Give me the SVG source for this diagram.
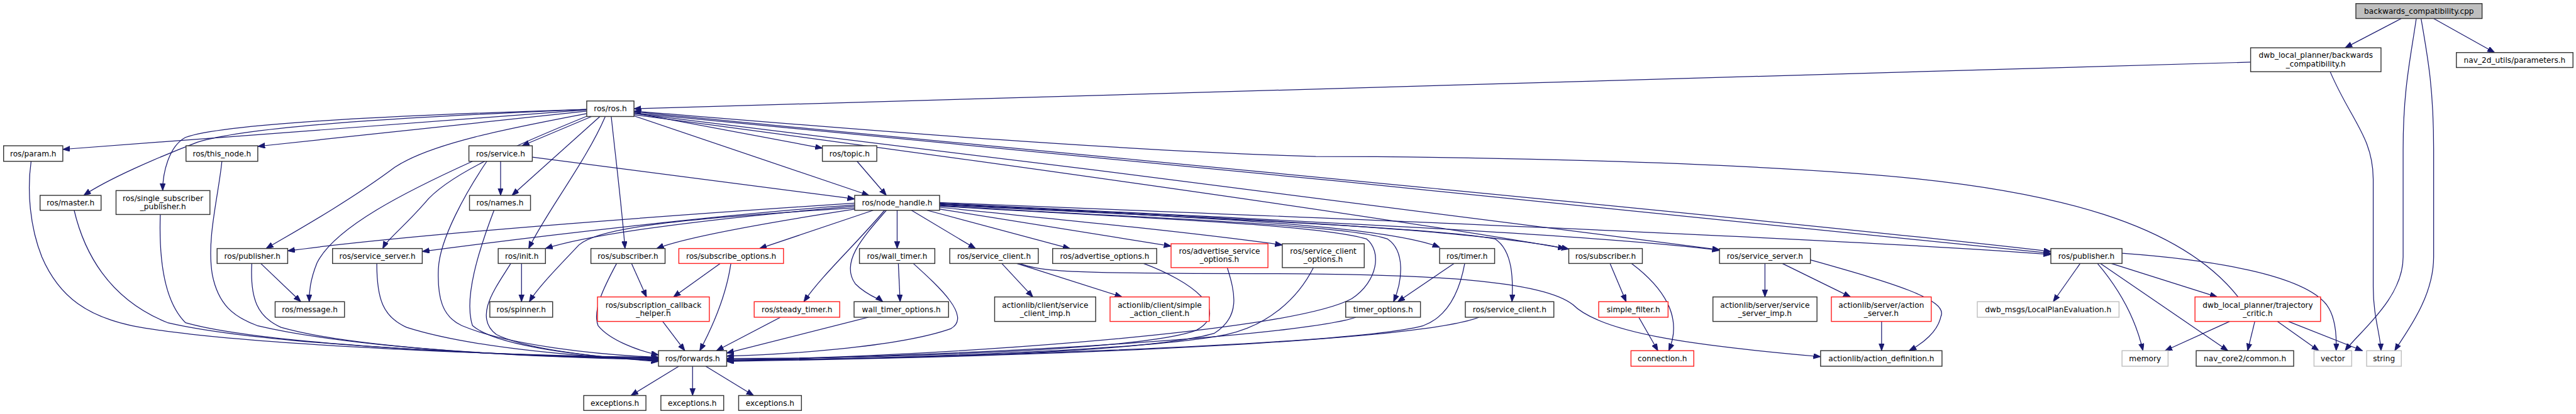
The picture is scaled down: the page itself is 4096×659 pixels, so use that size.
<svg xmlns="http://www.w3.org/2000/svg" width="4096" height="659" viewBox="0 0 4096 659">
<style>
.nd rect{fill:#fff;stroke:#333;stroke-width:1.5}
.nd.red rect{stroke:#ff2020}
.nd.gry rect{stroke:#bfbfbf}
.nd.root rect{fill:#bfbfbf}
.nd text{font-family:"DejaVu Sans","Liberation Sans",sans-serif;font-size:12.8px;text-anchor:middle;fill:#000}
#edges path{fill:none;stroke:#191970;stroke-width:1.3;marker-end:url(#ah)}
#edges path.na{marker-end:none}
</style>
<defs>
<marker id="ah" markerUnits="userSpaceOnUse" markerWidth="13" markerHeight="10" refX="12" refY="4.5" orient="auto"><path d="M0,0 L12,4.5 L0,9 z" fill="#191970" stroke="#191970" stroke-width="1"/></marker>
</defs>
<rect width="4096" height="659" fill="#fff"/>
<g transform="scale(0.951)">
<g id="edges">
<path d="M4015,31 L3921,80"/>
<path d="M4069,31 L4171,88"/>
<path d="M4040,31 C4030,100 4018,150 4018,250 L4018,430 C4018,500 3945,555 3921,587"/>
<path d="M4048,31 C4060,100 4069,150 4069,250 L4069,430 C4069,500 4020,560 4004,587"/>
<path d="M3896,120 C3930,200 3968,230 3968,300 L3968,480 C3968,530 3980,560 3981,587"/>
<path d="M3763,104 L1060,182"/>
<path d="M981,184 L105,250"/>
<path d="M981,186 L431,245"/>
<path d="M981,183 C700,195 420,210 330,238 C260,265 180,300 140,327"/>
<path d="M981,183 C700,192 380,205 310,230 C282,245 272,290 272,319"/>
<path d="M982,190 C850,215 720,240 660,280 C580,340 480,395 445,416"/>
<path d="M985,193 C870,240 750,290 710,340 C675,380 648,400 640,416"/>
<path d="M989,195 L873,244"/>
<path d="M1003,195 L856,327"/>
<path d="M1012,195 C980,270 910,360 884,416"/>
<path d="M1022,195 C1030,270 1040,350 1045,416"/>
<path d="M1060,189 L1375,248"/>
<path d="M1060,194 L1453,327"/>
<path d="M1060,192 C1500,250 2300,360 2617,416"/>
<path d="M1060,190 C1600,255 2600,380 2875,418"/>
<path d="M1060,187 C1600,240 2900,360 3429,421"/>
<path d="M1060,189 C1600,243 2900,364 3429,424"/>
<path d="M3742,497 C3650,380 3450,315 3100,290 C2800,268 2400,262 2200,262 C1800,250 1300,205 1060,186"/>
<path d="M1433,270 L1482,327"/>
<path d="M890,263 L1429,333"/>
<path d="M837,270 L837,327"/>
<path d="M790,270 C680,320 560,380 530,440 C518,470 517,490 517,505"/>
<path d="M814,270 C780,320 735,400 733,450 C731,500 740,530 772,545 C850,578 1000,594 1101,598"/>
<path d="M52,270 C45,320 50,380 70,430 C100,500 150,530 220,545 C400,580 900,596 1101,598"/>
<path d="M124,352 C140,420 180,500 280,540 C450,580 900,597 1101,599"/>
<path d="M268,359 C266,420 270,500 310,540 C450,580 900,597 1101,600"/>
<path d="M371,270 C365,330 345,400 355,460 C365,510 390,530 430,545 C600,585 900,598 1101,601"/>
<path d="M421,441 C418,500 430,530 470,548 C600,585 900,598 1101,602"/>
<path d="M436,441 L503,505"/>
<path d="M630,441 C630,500 640,530 680,548 C780,580 950,596 1101,603"/>
<path d="M826,352 C800,420 775,500 790,545 C830,580 980,597 1101,604"/>
<path d="M854,441 C830,480 790,530 830,560 C880,585 1000,598 1101,605"/>
<path d="M872,441 L872,505"/>
<path d="M1031,441 C1010,480 990,520 1000,545 C1020,570 1070,588 1101,594"/>
<path d="M1056,441 L1081,497"/>
<path d="M1204,441 L1126,497"/>
<path d="M1222,441 C1215,490 1195,540 1170,587"/>
<path d="M1108,538 L1145,587"/>
<path d="M1305,531 L1198,587"/>
<path d="M1452,531 L1215,591"/>
<path d="M1502,441 L1505,505"/>
<path d="M1527,441 C1570,480 1625,530 1590,550 C1500,582 1300,594 1215,596"/>
<path d="M1429,340 C1200,355 700,390 481,420"/>
<path d="M1429,343 C1200,360 900,395 706,421"/>
<path d="M1429,345 C1200,365 1000,388 912,416"/>
<path d="M1429,348 C1150,365 1000,380 968,410 C940,440 900,480 885,505"/>
<path d="M1429,350 C1300,370 1150,395 1098,416"/>
<path d="M1460,352 L1270,416"/>
<path d="M1479,352 C1430,410 1375,460 1344,505"/>
<path d="M1482,352 C1440,400 1405,440 1430,475 C1450,495 1470,500 1476,505"/>
<path d="M1500,352 L1500,416"/>
<path d="M1524,352 L1631,416"/>
<path d="M1550,352 L1789,416"/>
<path d="M1571,350 L1958,412"/>
<path d="M1571,347 C1800,370 2000,390 2144,410"/>
<path d="M1571,342 C1900,360 2300,372 2407,414"/>
<path d="M1571,341 C1900,358 2450,380 2623,417"/>
<path d="M1571,340 C2000,362 2650,390 2875,419"/>
<path d="M1571,339 C2100,360 3100,400 3429,426"/>
<path d="M1571,344 C1900,365 2250,375 2320,400 C2350,420 2345,470 2330,505"/>
<path d="M1571,343 C1900,360 2400,380 2500,400 C2530,420 2530,470 2528,505"/>
<path d="M1571,345 C1900,365 2200,375 2285,400 C2310,420 2305,470 2260,500 C2150,560 1500,600 1215,602"/>
<path d="M1912,441 C1990,470 2060,520 2000,553 C1900,590 1400,600 1215,600"/>
<path d="M2052,448 C2065,490 2075,530 2030,558 C1900,595 1400,602 1215,602"/>
<path d="M2196,448 C2170,500 2120,545 2050,560 C1900,590 1400,602 1215,603"/>
<path d="M2431,441 L2337,505"/>
<path d="M2449,441 C2440,490 2420,530 2380,545 C2250,580 1500,600 1215,604"/>
<path d="M2267,531 C2200,555 1800,590 1215,603"/>
<path d="M2473,531 C2400,560 2000,592 1215,605"/>
<path d="M1675,441 L1727,497"/>
<path d="M1700,441 L1876,497"/>
<path d="M1705,441 C1740,455 1800,458 2100,458 C2400,458 2580,470 2630,510 C2680,560 2850,580 3044,597"/>
<path d="M2692,441 L2719,505"/>
<path d="M2728,441 C2780,480 2815,530 2790,587"/>
<path d="M2740,531 L2772,587"/>
<path d="M2951,441 L2951,497"/>
<path d="M2980,441 L3094,497"/>
<path d="M3027,435 C3150,470 3260,500 3245,530 C3240,555 3215,575 3192,587"/>
<path d="M3146,538 L3146,587"/>
<path d="M3478,441 L3433,505"/>
<path d="M3507,441 C3540,480 3570,530 3583,587"/>
<path d="M3512,441 L3725,587"/>
<path d="M3530,441 L3707,497"/>
<path d="M3548,424 C3700,435 3850,460 3890,510 C3905,530 3907,560 3906,587"/>
<path d="M3728,538 L3620,587"/>
<path d="M3770,538 L3758,587"/>
<path d="M3808,538 L3877,587"/>
<path d="M3826,538 L3950,587"/>
<path d="M1135,613 L1055,662"/>
<path d="M1158,613 L1158,662"/>
<path d="M1180,613 L1260,662"/>
</g>
<g id="n_root" class="nd root"><rect x="3939" y="6" width="211" height="25"/><text x="4044.5" y="23">backwards_compatibility.cpp</text></g>
<g id="n_bch" class="nd"><rect x="3763" y="80" width="218" height="40"/><text x="3872" y="97">dwb_local_planner/backwards</text><text x="3872" y="111">_compatibility.h</text></g>
<g id="n_params" class="nd"><rect x="4107" y="88" width="195" height="25"/><text x="4204.5" y="105">nav_2d_utils/parameters.h</text></g>
<g id="n_ros" class="nd"><rect x="981" y="169" width="79" height="26"/><text x="1020.5" y="186.5">ros/ros.h</text></g>
<g id="n_param" class="nd"><rect x="6" y="244" width="99" height="26"/><text x="55.5" y="261.5">ros/param.h</text></g>
<g id="n_thisnode" class="nd"><rect x="311" y="244" width="120" height="26"/><text x="371" y="261.5">ros/this_node.h</text></g>
<g id="n_service" class="nd"><rect x="784" y="244" width="106" height="26"/><text x="837" y="261.5">ros/service.h</text></g>
<g id="n_topic" class="nd"><rect x="1375" y="244" width="91" height="26"/><text x="1420.5" y="261.5">ros/topic.h</text></g>
<g id="n_master" class="nd"><rect x="67" y="327" width="102" height="25"/><text x="118" y="344">ros/master.h</text></g>
<g id="n_ssp" class="nd"><rect x="194" y="319" width="157" height="40"/><text x="272.5" y="336">ros/single_subscriber</text><text x="272.5" y="350">_publisher.h</text></g>
<g id="n_names" class="nd"><rect x="785" y="327" width="102" height="25"/><text x="836" y="344">ros/names.h</text></g>
<g id="n_nh" class="nd"><rect x="1429" y="327" width="142" height="25"/><text x="1500" y="344">ros/node_handle.h</text></g>
<g id="n_publ" class="nd"><rect x="363" y="416" width="118" height="25"/><text x="422" y="433">ros/publisher.h</text></g>
<g id="n_ssl" class="nd"><rect x="556" y="416" width="150" height="25"/><text x="631" y="433">ros/service_server.h</text></g>
<g id="n_init" class="nd"><rect x="833" y="416" width="79" height="25"/><text x="872.5" y="433">ros/init.h</text></g>
<g id="n_subl" class="nd"><rect x="988" y="416" width="124" height="25"/><text x="1050" y="433">ros/subscriber.h</text></g>
<g id="n_subopt" class="nd red"><rect x="1135" y="416" width="175" height="25"/><text x="1222.5" y="433">ros/subscribe_options.h</text></g>
<g id="n_wt" class="nd"><rect x="1437" y="416" width="126" height="25"/><text x="1500" y="433">ros/wall_timer.h</text></g>
<g id="n_sc" class="nd"><rect x="1588" y="416" width="148" height="25"/><text x="1662" y="433">ros/service_client.h</text></g>
<g id="n_ao" class="nd"><rect x="1760" y="416" width="174" height="25"/><text x="1847" y="433">ros/advertise_options.h</text></g>
<g id="n_aso" class="nd red"><rect x="1958" y="408" width="162" height="40"/><text x="2039" y="425">ros/advertise_service</text><text x="2039" y="439">_options.h</text></g>
<g id="n_sco" class="nd"><rect x="2144" y="408" width="137" height="40"/><text x="2212.5" y="425">ros/service_client</text><text x="2212.5" y="439">_options.h</text></g>
<g id="n_timer" class="nd"><rect x="2407" y="416" width="92" height="25"/><text x="2453" y="433">ros/timer.h</text></g>
<g id="n_subr" class="nd"><rect x="2623" y="416" width="123" height="25"/><text x="2684.5" y="433">ros/subscriber.h</text></g>
<g id="n_ssr" class="nd"><rect x="2875" y="416" width="152" height="25"/><text x="2951" y="433">ros/service_server.h</text></g>
<g id="n_pubr" class="nd"><rect x="3429" y="416" width="119" height="25"/><text x="3488.5" y="433">ros/publisher.h</text></g>
<g id="n_msg" class="nd"><rect x="460" y="505" width="116" height="26"/><text x="518" y="522.5">ros/message.h</text></g>
<g id="n_spinner" class="nd"><rect x="819" y="505" width="105" height="26"/><text x="871.5" y="522.5">ros/spinner.h</text></g>
<g id="n_sch" class="nd red"><rect x="999" y="497" width="187" height="41"/><text x="1092.5" y="515">ros/subscription_callback</text><text x="1092.5" y="529">_helper.h</text></g>
<g id="n_st" class="nd red"><rect x="1261" y="505" width="143" height="26"/><text x="1332.5" y="522.5">ros/steady_timer.h</text></g>
<g id="n_wto" class="nd"><rect x="1428" y="505" width="158" height="26"/><text x="1507" y="522.5">wall_timer_options.h</text></g>
<g id="n_sci" class="nd"><rect x="1663" y="497" width="169" height="41"/><text x="1747.5" y="515">actionlib/client/service</text><text x="1747.5" y="529">_client_imp.h</text></g>
<g id="n_sac" class="nd red"><rect x="1856" y="497" width="166" height="41"/><text x="1939" y="515">actionlib/client/simple</text><text x="1939" y="529">_action_client.h</text></g>
<g id="n_to" class="nd"><rect x="2250" y="505" width="125" height="26"/><text x="2312.5" y="522.5">timer_options.h</text></g>
<g id="n_sc2" class="nd"><rect x="2450" y="505" width="148" height="26"/><text x="2524" y="522.5">ros/service_client.h</text></g>
<g id="n_sf" class="nd red"><rect x="2673" y="505" width="116" height="26"/><text x="2731" y="522.5">simple_filter.h</text></g>
<g id="n_ssi" class="nd"><rect x="2864" y="497" width="174" height="41"/><text x="2951" y="515">actionlib/server/service</text><text x="2951" y="529">_server_imp.h</text></g>
<g id="n_as" class="nd red"><rect x="3062" y="497" width="167" height="41"/><text x="3145.5" y="515">actionlib/server/action</text><text x="3145.5" y="529">_server.h</text></g>
<g id="n_lpe" class="nd gry"><rect x="3306" y="505" width="237" height="26"/><text x="3424.5" y="522.5">dwb_msgs/LocalPlanEvaluation.h</text></g>
<g id="n_tc" class="nd red"><rect x="3670" y="497" width="210" height="41"/><text x="3775" y="515">dwb_local_planner/trajectory</text><text x="3775" y="529">_critic.h</text></g>
<g id="n_fwd" class="nd"><rect x="1101" y="587" width="114" height="26"/><text x="1158" y="604.5">ros/forwards.h</text></g>
<g id="n_conn" class="nd red"><rect x="2727" y="587" width="105" height="26"/><text x="2779.5" y="604.5">connection.h</text></g>
<g id="n_ad" class="nd"><rect x="3044" y="587" width="203" height="26"/><text x="3145.5" y="604.5">actionlib/action_definition.h</text></g>
<g id="n_memory" class="nd gry"><rect x="3548" y="587" width="77" height="26"/><text x="3586.5" y="604.5">memory</text></g>
<g id="n_common" class="nd"><rect x="3672" y="587" width="163" height="26"/><text x="3753.5" y="604.5">nav_core2/common.h</text></g>
<g id="n_vector" class="nd gry"><rect x="3869" y="587" width="63" height="26"/><text x="3900.5" y="604.5">vector</text></g>
<g id="n_string" class="nd gry"><rect x="3957" y="587" width="58" height="26"/><text x="3986" y="604.5">string</text></g>
<g id="n_ex1" class="nd"><rect x="976" y="662" width="104" height="25"/><text x="1028" y="679">exceptions.h</text></g>
<g id="n_ex2" class="nd"><rect x="1105" y="662" width="105" height="25"/><text x="1157.5" y="679">exceptions.h</text></g>
<g id="n_ex3" class="nd"><rect x="1235" y="662" width="105" height="25"/><text x="1287.5" y="679">exceptions.h</text></g>
</g>
</svg>
